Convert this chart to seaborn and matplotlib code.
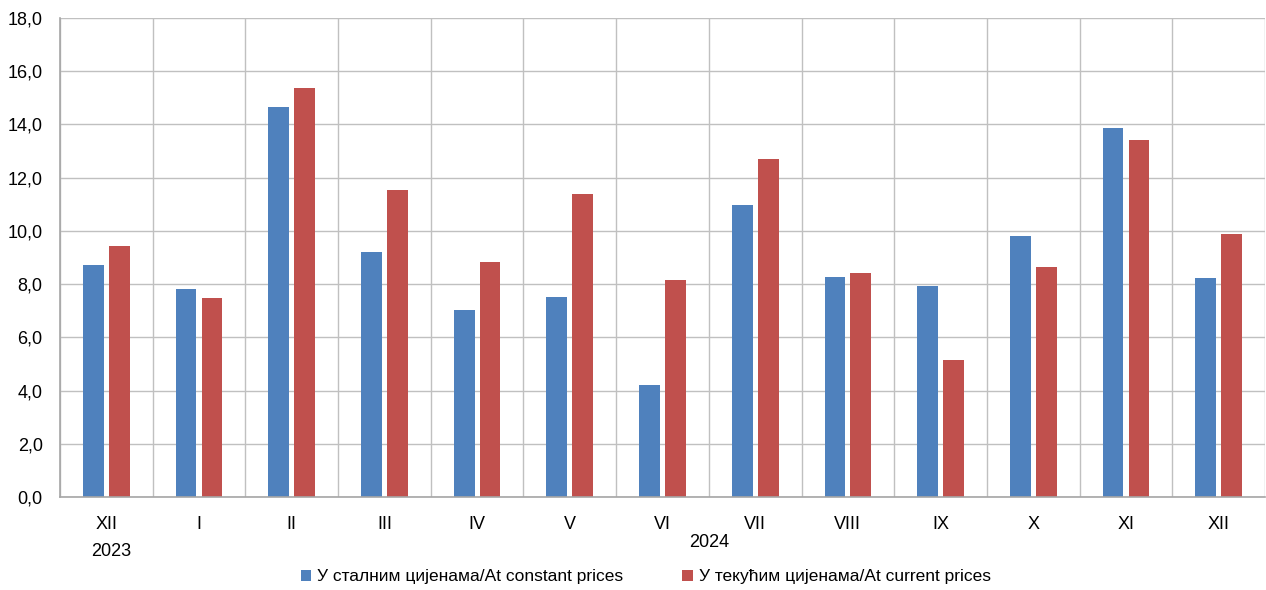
import pandas as pd
import matplotlib
matplotlib.use("Agg")
import matplotlib.pyplot as plt
import seaborn as sns
from matplotlib.patches import Patch

# values
months = ["XII", "I", "II", "III", "IV", "V", "VI", "VII", "VIII", "IX", "X", "XI", "XII"]
periods = ["2023-12", "2024-01", "2024-02", "2024-03", "2024-04", "2024-05", "2024-06",
           "2024-07", "2024-08", "2024-09", "2024-10", "2024-11", "2024-12"]
constant_prices = [8.70, 7.81, 14.67, 9.20, 7.02, 7.51, 4.22, 10.96, 8.26, 7.94, 9.79, 13.87, 8.22]
current_prices = [9.45, 7.48, 15.38, 11.52, 8.84, 11.37, 8.15, 12.70, 8.40, 5.13, 8.63, 13.41, 9.89]
series_names = ["У сталним цијенама/At constant prices", "У текућим цијенама/At current prices"]
colors = ["#4F81BD", "#C0504D"]
years = ["2023", "2024"]


def build_frame():
    df = pd.DataFrame({"period": periods, series_names[0]: constant_prices,
                       series_names[1]: current_prices})
    return df.melt(id_vars="period", var_name="series", value_name="value")


def plot_chart(df):
    sns.set_style("white")
    plt.rcParams["font.family"] = ["Liberation Sans", "DejaVu Sans"]
    plt.rcParams["text.color"] = "black"
    plt.rcParams["xtick.labelcolor"] = "black"
    plt.rcParams["ytick.labelcolor"] = "black"

    fig = plt.figure(figsize=(12.66, 5.9), dpi=100)
    ax = fig.add_axes([60 / 1266, 1 - 497 / 590, 1205 / 1266, 479 / 590])

    sns.barplot(data=df, x="period", y="value", hue="series", order=periods,
                hue_order=series_names, palette=colors, width=0.56, gap=0.2,
                saturation=1, edgecolor="none", legend=False, ax=ax)

    ax.set_xlim(-0.5, len(periods) - 0.5)
    ax.set_ylim(0, 18)
    ax.set_yticks([i * 2 for i in range(10)])
    ax.set_yticklabels([f"{i * 2},0" for i in range(10)], fontsize=13)

    # boundaries get the gridlines and ticks, labels sit in the middle
    ax.set_xticks([i - 0.5 for i in range(len(periods) + 1)])
    ax.set_xticklabels([])
    ax.set_xticks(range(len(periods)), minor=True)
    ax.set_xticklabels(months, minor=True, fontsize=13)
    ax.tick_params(axis="x", which="major", length=5, width=1, color="#A6A6A6", direction="out")
    ax.tick_params(axis="x", which="minor", length=0, pad=14, labelcolor="black")
    ax.tick_params(axis="y", length=4.5, width=1, color="#A6A6A6", direction="out", pad=8,
                   labelcolor="black")
    ax.set_xlabel("")
    ax.set_ylabel("")

    ax.grid(True, which="major", color="#C0C0C0", linewidth=1)
    ax.set_axisbelow(True)
    for side in ["top", "right"]:
        ax.spines[side].set_visible(False)
    for side in ["left", "bottom"]:
        ax.spines[side].set_color("#A6A6A6")
        ax.spines[side].set_linewidth(1.2)

    tr = ax.get_xaxis_transform()
    ax.text(0.05, -0.113, years[0], transform=tr, ha="center", va="center", fontsize=13)
    ax.text(6.5, -0.094, years[1], transform=tr, ha="center", va="center", fontsize=13)

    handles = [Patch(facecolor=c, edgecolor="none") for c in colors]
    fig.legend(handles, series_names, loc="center", bbox_to_anchor=(0.51, 1 - 577 / 590),
               ncol=2, frameon=False, fontsize=12.5, handlelength=0.6, handleheight=0.6,
               handletextpad=0.35, columnspacing=3.4)

    return fig


df = build_frame()
fig = plot_chart(df)
fig.savefig("out.png", dpi=100)
